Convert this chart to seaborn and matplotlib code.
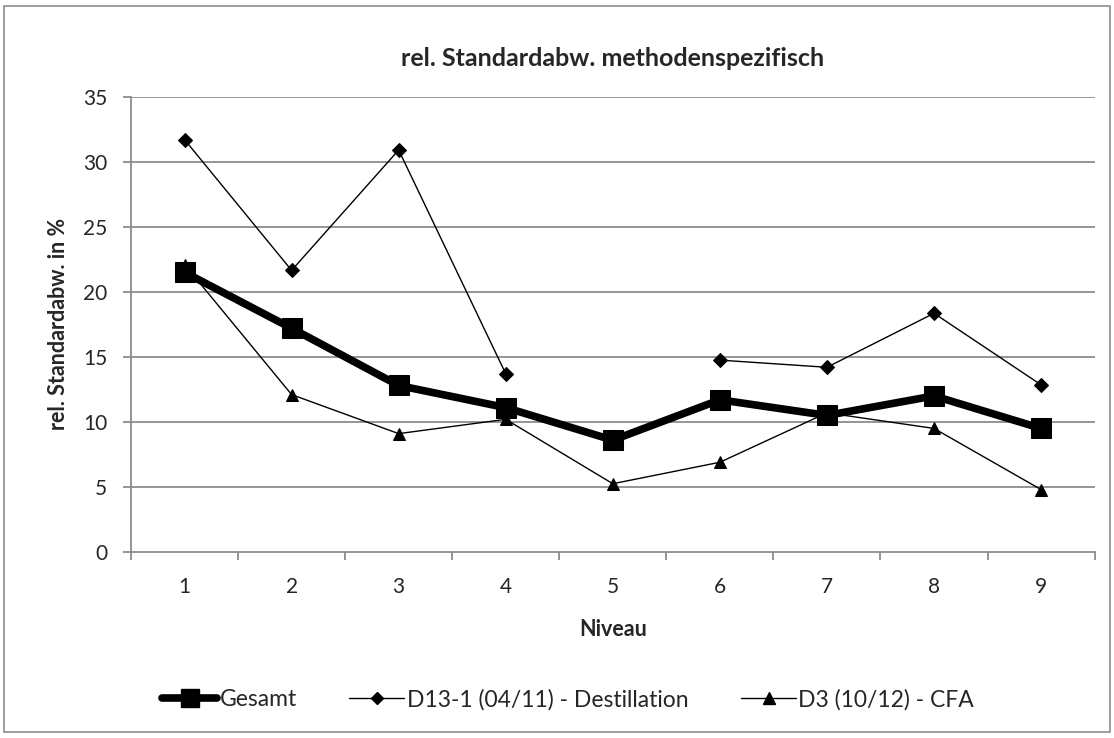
import numpy as np
import pandas as pd
import matplotlib
matplotlib.use('Agg')
import matplotlib.pyplot as plt
import seaborn as sns
from matplotlib.lines import Line2D
from matplotlib.patches import Rectangle

# Data
niveau = [1, 2, 3, 4, 5, 6, 7, 8, 9]
gesamt = [21.5, 17.2, 12.8, 11.1, 8.6, 11.7, 10.5, 12.0, 9.5]
d13_destillation = [31.7, 21.65, 30.9, 13.7, np.nan, 14.75, 14.2, 18.35, 12.85]
d3_cfa = [22.1, 12.1, 9.1, 10.2, 5.25, 6.9, 10.7, 9.5, 4.8]

series_names = ['Gesamt', 'D13-1 (04/11) - Destillation', 'D3 (10/12) - CFA']


def main():
    sns.set_style('white')
    plt.rcParams['font.family'] = ['Lato', 'DejaVu Sans']

    fig = plt.figure(figsize=(11.14, 7.38), dpi=100)
    ax = fig.add_axes([0.1176, 0.252, 0.865, 0.617])

    grid_col = '#8c8c8c'
    for y in range(5, 36, 5):
        ax.axhline(y, color=grid_col, lw=1.3, zorder=0)

    # split the destillation series at the gap so the line breaks
    d13 = pd.DataFrame({'niveau': niveau, 'wert': d13_destillation})
    d13['segment'] = d13['wert'].isna().cumsum()
    d13 = d13.dropna()

    sns.lineplot(x=niveau, y=d3_cfa, ax=ax, color='black', lw=1,
                 marker='^', markersize=9, markeredgecolor='black', zorder=3)
    sns.lineplot(data=d13, x='niveau', y='wert', units='segment', estimator=None,
                 ax=ax, color='black', lw=1, marker='D', markersize=7,
                 markeredgecolor='black', zorder=3)
    sns.lineplot(x=niveau, y=gesamt, ax=ax, color='black', lw=5.5,
                 marker='s', markersize=15, markeredgecolor='black', zorder=4)

    ax.set_xlim(0.5, 9.5)
    ax.set_ylim(0, 35)
    ax.set_yticks(range(0, 36, 5))
    ax.set_xticks(niveau)
    ax.set_xticks(np.arange(0.5, 9.6, 1), minor=True)
    ax.tick_params(axis='x', which='major', length=0, pad=18, labelsize=15)
    ax.tick_params(axis='x', which='minor', length=6, color=grid_col, width=1.3,
                   direction='out', bottom=True)
    ax.tick_params(axis='y', length=6, color=grid_col, width=1.3, direction='out',
                   left=True, labelsize=15, pad=11)

    for side in ['top', 'right']:
        ax.spines[side].set_visible(False)
    for side in ['left', 'bottom']:
        ax.spines[side].set_color(grid_col)
        ax.spines[side].set_linewidth(1.3)

    ax.set_title('rel. Standardabw. methodenspezifisch', fontsize=18,
                 fontweight='bold', pad=22)
    ax.set_xlabel('Niveau', fontsize=15.5, fontweight='bold', labelpad=16)
    ax.set_ylabel('rel. Standardabw. in %', fontsize=15.5, fontweight='bold', labelpad=10)

    handles = [
        Line2D([], [], color='black', lw=5.5, marker='s', markersize=13),
        Line2D([], [], color='black', lw=1, marker='D', markersize=6),
        Line2D([], [], color='black', lw=1, marker='^', markersize=8),
    ]
    fig.legend(handles, series_names, loc='center', bbox_to_anchor=(0.51, 0.052),
               ncol=3, frameon=False, fontsize=16.5, handlelength=2.4,
               handletextpad=0.1, columnspacing=2.3)

    # chart area border
    fig.patches.append(Rectangle((0.004, 0.008), 0.992, 0.984, transform=fig.transFigure,
                                 fill=False, edgecolor='#8c8c8c', lw=1.2))

    fig.savefig('out.png', dpi=100)


if __name__ == '__main__':
    main()
